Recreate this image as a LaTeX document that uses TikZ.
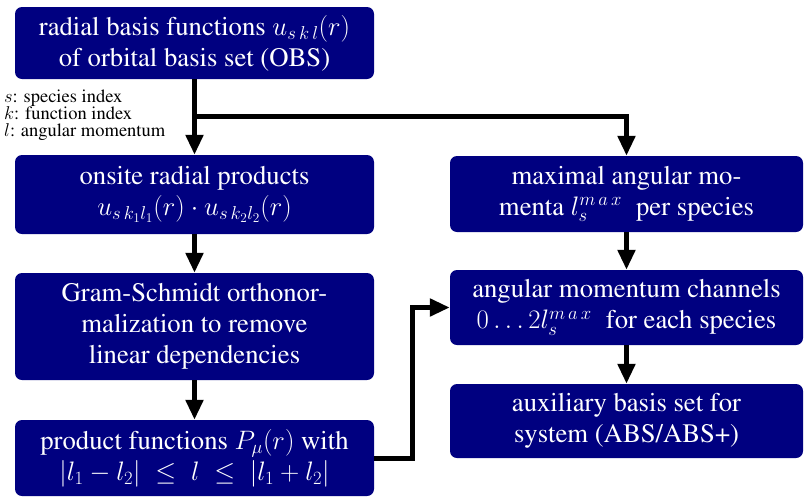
\RequirePackage{fix-cm}
\documentclass[tikz,border=0pt]{standalone}
\usepackage[T1]{fontenc}
\usepackage{times}
\usetikzlibrary{arrows.meta}
\definecolor{boxblue}{RGB}{0,0,128}
\tikzset{
  stepbox/.style={draw=none, fill=boxblue, rounded corners=7pt, text=white,
    align=center, inner sep=0pt,
    font=\fontsize{26.7}{31}\selectfont},
  conn/.style={line width=5pt, -{Triangle[length=20pt,width=17pt]}},
  note/.style={align=left, inner sep=0pt, font=\fontsize{18.5}{17}\selectfont}
}
\begin{document}
\begin{tikzpicture}[x=1pt,y=-1pt]
\useasboundingbox (0,0) rectangle (804,496);
\node[stepbox, minimum width=359pt, minimum height=72pt] (b1) at (194.5,43)
  {radial basis functions $u_{s\,k\,l}(r)$\\ of orbital basis set (OBS)};
\node[stepbox, minimum width=359pt, minimum height=79pt] (b2) at (194.5,194.5)
  {onsite radial products\\ $u_{s\,k_1l_1}(r)\cdot u_{s\,k_2l_2}(r)$};
\node[stepbox, minimum width=359pt, minimum height=107pt] (b3) at (194.5,326.5)
  {Gram-Schmidt orthonor-\\ malization to remove\\ linear dependencies};
\node[stepbox, minimum width=359pt, minimum height=76pt] (b4) at (194.5,458)
  {product functions $P_\mu(r)$ with\\ $|l_1-l_2|\;\leq\;l\;\leq\;|l_1+l_2|$};
\node[stepbox, minimum width=353pt, minimum height=76pt] (r1) at (626.5,194)
  {maximal angular mo-\\ menta $l_s^{m\,a\,x}$\; per species};
\node[stepbox, minimum width=353pt, minimum height=75pt] (r2) at (626.5,307.5)
  {angular momentum channels\\ $0\ldots2l_s^{m\,a\,x}$\; for each species};
\node[stepbox, minimum width=353pt, minimum height=74pt] (r3) at (626.5,421)
  {auxiliary basis set for\\ system (ABS/ABS+)};
\node[note, anchor=north west] (lab) at (4,90)
  {$s$: species index\\ $k$: function index\\ $l$: angular momentum};
\coordinate (j) at (194.5,116);
\coordinate (k) at (412,458);
\draw[conn] (b1) -- (b2);
\draw[conn] (j) -| (r1);
\draw[conn] (b2) -- (b3);
\draw[conn] (b3) -- (b4);
\draw[conn] (b4.east) -- (k) |- (r2.west);
\draw[conn] (r1) -- (r2);
\draw[conn] (r2) -- (r3);
\end{tikzpicture}
\end{document}
